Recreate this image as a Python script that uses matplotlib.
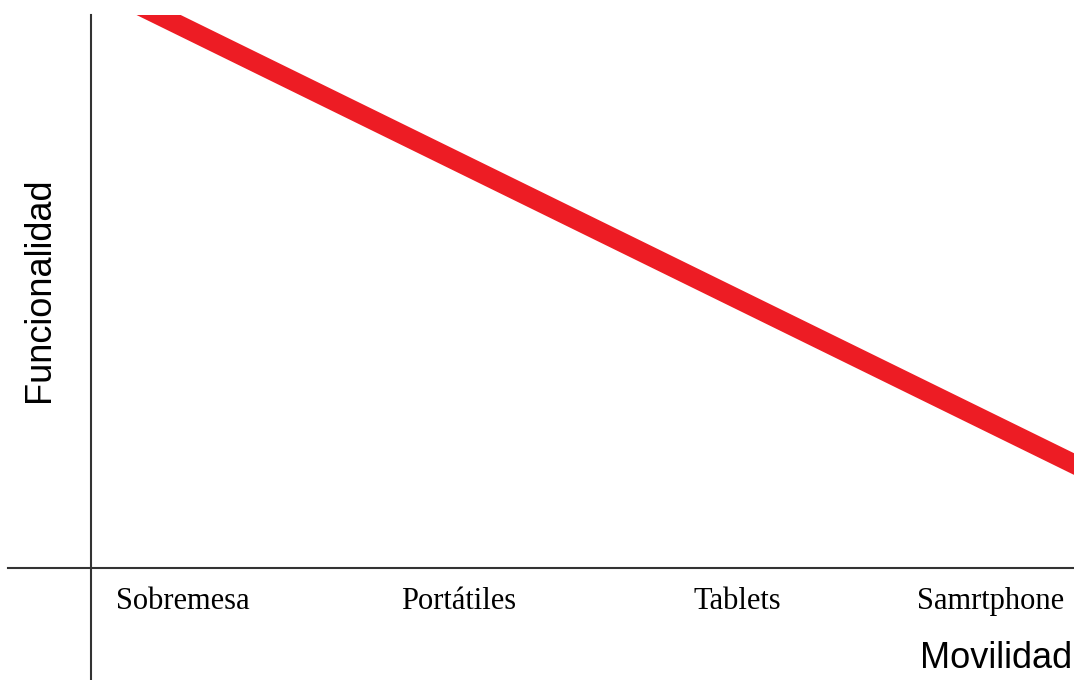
import matplotlib
matplotlib.use("Agg")
import matplotlib.pyplot as plt

# Data
categories = ["Sobremesa", "Portátiles", "Tablets", "Samrtphone"]
cat_positions = [0.093, 0.374, 0.657, 0.915]
trend_x = [0.0, 1.0]
trend_y = [1.06, 0.188]
x_label = "Movilidad"
y_label = "Funcionalidad"

fig = plt.figure(figsize=(10.74, 6.8), dpi=100)
ax = fig.add_axes([91/1074, (680-568)/680, 1 - 91/1074, (568-15)/680])
ax.set_xlim(0, 1)
ax.set_ylim(0, 1)
for s in ax.spines.values():
    s.set_visible(False)
ax.set_yticks([])

# axis lines extending beyond plot area
ax.axvline(0, ymin=(568-680)/553, ymax=1, color="#333333", lw=1.5, clip_on=False)
ax.axhline(0, xmin=(8-91)/983, xmax=1, color="#333333", lw=1.5, clip_on=False)

# trend line
ax.plot(trend_x, trend_y, color="#ED1C24", lw=14, solid_capstyle="projecting")

ax.set_xticks(cat_positions, categories)
ax.tick_params(axis="x", length=0, pad=14)
for lbl in ax.get_xticklabels():
    lbl.set_fontfamily("Liberation Serif")
    lbl.set_fontsize(22)
    lbl.set_color("black")

ax.text((1072-91)/983, (568-658)/553, x_label, transform=ax.transAxes,
        ha="right", va="center", fontsize=26, family="Liberation Sans", color="black")
ax.text((40-91)/983, (568-290)/553, y_label, transform=ax.transAxes,
        ha="center", va="center", rotation=90, fontsize=26, family="Liberation Sans", color="black")

fig.savefig("out.png", dpi=100)
